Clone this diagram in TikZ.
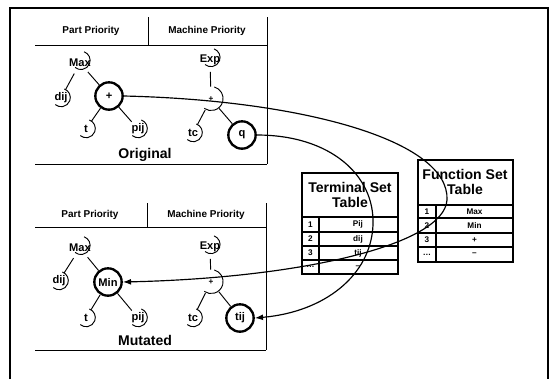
\documentclass[tikz,border=0pt]{standalone}
\usepackage{fontspec}
\setmainfont{Liberation Sans}
\usetikzlibrary{arrows.meta}

\tikzset{
  hdr/.style={font=\bfseries\fontsize{8.5}{10}\selectfont},
  leaf/.style={circle, minimum size=0.55cm, inner sep=0pt, font=\bfseries\fontsize{9.5}{11}\selectfont},
  joint/.style={circle, minimum size=0.72cm, inner sep=0pt, font=\bfseries\fontsize{7}{8}\selectfont},
  pick/.style={circle, draw, line width=2pt, minimum size=0.82cm, inner sep=0pt, font=\bfseries\fontsize{9.5}{11}\selectfont},
  caption/.style={font=\bfseries\fontsize{12}{14}\selectfont},
  ttl/.style={font=\bfseries\fontsize{12}{13}\selectfont, align=center, inner sep=0pt},
  cell/.style={font=\bfseries\fontsize{7}{8}\selectfont, inner sep=0pt},
  tab/.style={line width=1.3pt},
  link/.style={line width=1pt, -{Latex[length=7pt,width=5pt]}},
}

\begin{document}
\begin{tikzpicture}[x=0.03cm, y=0.03cm, line width=0.8pt]
\useasboundingbox (0,0) rectangle (550,-379);
\draw[line width=1.3pt] (10,-379) -- (10,-8) -- (548,-8) -- (548,-379);

% panels
\draw (35,-45) -- (267,-45) (148,-17) -- (148,-45) (267,-17) -- (267,-164) (35,-164) -- (267,-164);
\draw (35,-227) -- (266,-227) (147,-203) -- (147,-227) (266,-203) -- (266,-350) (35,-350) -- (266,-350);
\node[hdr] (oparthdr) at (91,-31) {Part Priority};
\node[hdr] (omachhdr) at (207,-31) {Machine Priority};
\node[hdr] (mparthdr) at (90,-215) {Part Priority};
\node[hdr] (mmachhdr) at (206,-215) {Machine Priority};

% original trees
\node[leaf] (omax) at (80,-63) {Max};
\node[leaf] (odij) at (61,-98) {dij};
\node[pick] (oop) at (109,-96) {+};
\node[leaf] (ot) at (86,-129) {t};
\node[leaf] (opij) at (138,-129) {pij};
\node[leaf] (oexp) at (210,-60) {Exp};
\node[joint] (oadd) at (211,-99) {+};
\node[leaf] (otc) at (193,-133) {tc};
\node[pick] (oterm) at (242,-135) {q};
\node[caption] (ocap) at (145,-155) {Original};

% mutated trees
\node[leaf] (mmax) at (80,-248) {Max};
\node[leaf] (mdij) at (59,-281) {dij};
\node[pick] (mop) at (108,-282) {Min};
\node[leaf] (mt) at (86,-318) {t};
\node[leaf] (mpij) at (138,-318) {pij};
\node[leaf] (mexp) at (210,-247) {Exp};
\node[joint] (madd) at (211,-282) {+};
\node[leaf] (mtc) at (193,-318) {tc};
\node[pick] (mterm) at (240,-318) {tij};
\node[caption] (mcap) at (145,-340) {Mutated};

\foreach \p in {o,m} {
  \foreach \a/\b in {max/dij, max/op, op/t, op/pij, exp/add, add/tc, add/term}
    \draw (\p\a) -- (\p\b);
  \foreach \n in {max,dij,t,pij,exp,tc}
    \draw (\p\n.70) arc[start angle=70, end angle=-130, radius=9.17];
  \draw (\p add.75) arc[start angle=75, end angle=-125, radius=12];
}

% tables
\draw[tab] (302,-173) rectangle (398,-274);
\node[ttl] (termttl) at (350,-195) {Terminal Set\\Table};
\foreach \y in {-217,-232,-246,-260} \draw[tab] (302,\y) -- (398,\y);
\draw[tab] (319,-217) -- (319,-274);
\foreach \n/\v/\y [count=\k] in {1/Pij/-224.5, 2/dij/-239, 3/tij/-253, \ldots/--/-267} {
  \node[cell] (tn\k) at (310.5,\y) {\n};
  \node[cell] (tv\k) at (358,\y) {\v};
}

\draw[tab] (418,-160) rectangle (513,-262);
\node[ttl] (functtl) at (465,-182) {Function Set\\Table};
\foreach \y in {-205,-218,-233,-247} \draw[tab] (418,\y) -- (513,\y);
\draw[tab] (436,-205) -- (436,-262);
\foreach \n/\v/\y [count=\k] in {1/Max/-211.5, 2/Min/-225.5, 3/+/-240, \ldots/--/-254.5} {
  \node[cell] (fn\k) at (427,\y) {\n};
  \node[cell] (fv\k) at (474.5,\y) {\v};
}

% mutation paths
\draw[link] (oop.east) .. controls (300,-100) and (450,-140) .. (447,-200)
  .. controls (444,-245) and (300,-278) .. (mop.east);
\draw[link] (oterm.east) .. controls (330,-135) and (375,-175) .. (373,-225)
  .. controls (371,-275) and (325,-312) .. (mterm.east);
\end{tikzpicture}
\end{document}
